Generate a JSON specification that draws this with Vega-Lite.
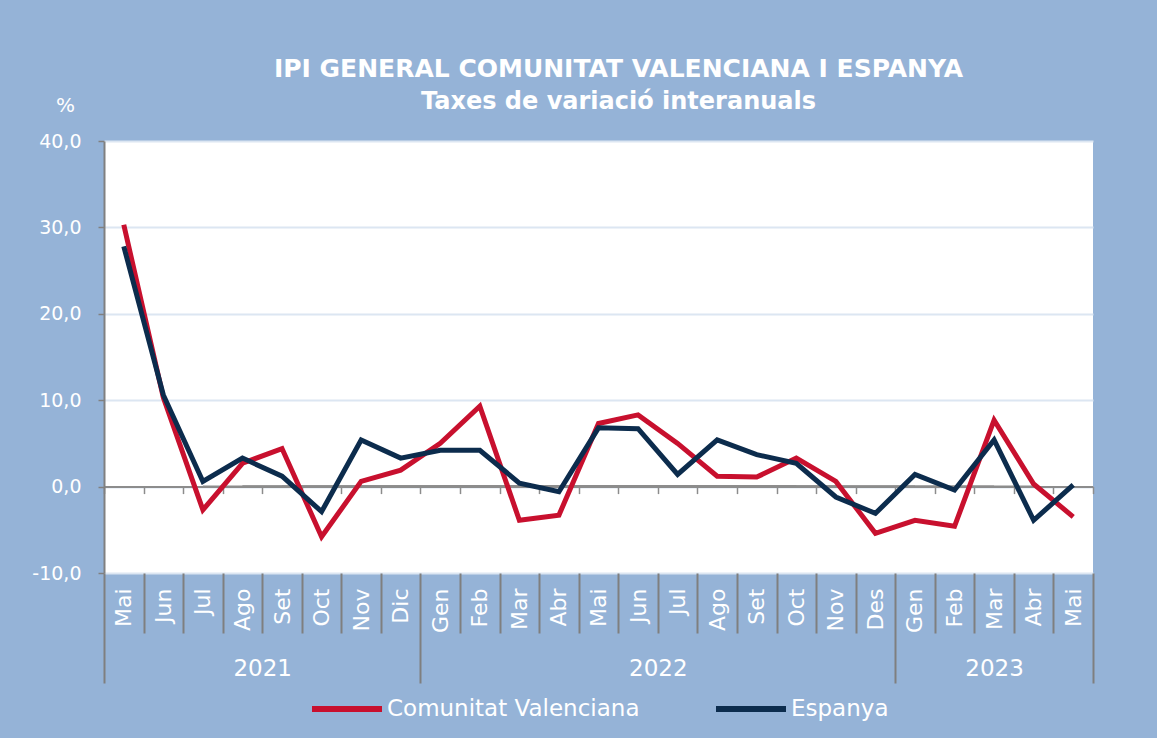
{
  "$schema": "https://vega.github.io/schema/vega-lite/v6.json",
  "width": 989,
  "height": 432,
  "autosize": {"type": "none"},
  "padding": {"left": 104, "top": 141, "right": 64, "bottom": 165},
  "background": "#95b3d7",
  "config": {
    "locale": {"number": {"decimal": ",", "thousands": ".", "grouping": [3], "currency": ["", " €"], "minus": "-"}},
    "view": {"fill": "white", "stroke": null},
    "font": "DejaVu Sans"
  },
  "title": {
    "text": "IPI GENERAL COMUNITAT VALENCIANA I ESPANYA",
    "subtitle": "Taxes de variació interanuals",
    "color": "white",
    "subtitleColor": "white",
    "font": "DejaVu Sans",
    "subtitleFont": "DejaVu Sans",
    "fontSize": 25,
    "subtitleFontSize": 24,
    "fontWeight": "bold",
    "subtitleFontWeight": "bold",
    "anchor": "middle",
    "frame": "group",
    "dx": 20,
    "offset": -19,
    "subtitlePadding": 8
  },
  "datasets": {
    "ipi": [
      {"i": 0, "mes": "Mai", "any": 2021, "Comunitat Valenciana": 30.3, "Espanya": 27.8},
      {"i": 1, "mes": "Jun", "any": 2021, "Comunitat Valenciana": 10.3, "Espanya": 10.6},
      {"i": 2, "mes": "Jul", "any": 2021, "Comunitat Valenciana": -2.7, "Espanya": 0.6},
      {"i": 3, "mes": "Ago", "any": 2021, "Comunitat Valenciana": 2.7, "Espanya": 3.3},
      {"i": 4, "mes": "Set", "any": 2021, "Comunitat Valenciana": 4.4, "Espanya": 1.2},
      {"i": 5, "mes": "Oct", "any": 2021, "Comunitat Valenciana": -5.8, "Espanya": -2.9},
      {"i": 6, "mes": "Nov", "any": 2021, "Comunitat Valenciana": 0.6, "Espanya": 5.4},
      {"i": 7, "mes": "Dic", "any": 2021, "Comunitat Valenciana": 1.9, "Espanya": 3.3},
      {"i": 8, "mes": "Gen", "any": 2022, "Comunitat Valenciana": 5.0, "Espanya": 4.2},
      {"i": 9, "mes": "Feb", "any": 2022, "Comunitat Valenciana": 9.3, "Espanya": 4.2},
      {"i": 10, "mes": "Mar", "any": 2022, "Comunitat Valenciana": -3.9, "Espanya": 0.4},
      {"i": 11, "mes": "Abr", "any": 2022, "Comunitat Valenciana": -3.3, "Espanya": -0.6},
      {"i": 12, "mes": "Mai", "any": 2022, "Comunitat Valenciana": 7.3, "Espanya": 6.8},
      {"i": 13, "mes": "Jun", "any": 2022, "Comunitat Valenciana": 8.3, "Espanya": 6.7},
      {"i": 14, "mes": "Jul", "any": 2022, "Comunitat Valenciana": 5.0, "Espanya": 1.4},
      {"i": 15, "mes": "Ago", "any": 2022, "Comunitat Valenciana": 1.2, "Espanya": 5.4},
      {"i": 16, "mes": "Set", "any": 2022, "Comunitat Valenciana": 1.1, "Espanya": 3.7},
      {"i": 17, "mes": "Oct", "any": 2022, "Comunitat Valenciana": 3.3, "Espanya": 2.7},
      {"i": 18, "mes": "Nov", "any": 2022, "Comunitat Valenciana": 0.6, "Espanya": -1.2},
      {"i": 19, "mes": "Des", "any": 2022, "Comunitat Valenciana": -5.4, "Espanya": -3.1},
      {"i": 20, "mes": "Gen", "any": 2023, "Comunitat Valenciana": -3.9, "Espanya": 1.4},
      {"i": 21, "mes": "Feb", "any": 2023, "Comunitat Valenciana": -4.6, "Espanya": -0.4},
      {"i": 22, "mes": "Mar", "any": 2023, "Comunitat Valenciana": 7.7, "Espanya": 5.4},
      {"i": 23, "mes": "Abr", "any": 2023, "Comunitat Valenciana": 0.3, "Espanya": -3.9},
      {"i": 24, "mes": "Mai", "any": 2023, "Comunitat Valenciana": -3.5, "Espanya": 0.2}
    ]
  },
  "data": {"name": "ipi"},
  "transform": [{"fold": ["Comunitat Valenciana", "Espanya"], "as": ["serie", "valor"]}],
  "encoding": {
    "y": {
      "field": "valor",
      "type": "quantitative",
      "scale": {"domain": [-10, 40], "nice": false, "zero": false},
      "axis": {
        "title": "%",
        "titleAngle": 0,
        "titleX": -39,
        "titleY": -36,
        "titleAlign": "center",
        "titleBaseline": "middle",
        "titleColor": "white",
        "titleFont": "DejaVu Sans",
        "titleFontSize": 20,
        "titleFontWeight": "normal",
        "values": [-10, 0, 10, 20, 30, 40],
        "format": ".1f",
        "labelColor": "white",
        "labelFont": "DejaVu Sans",
        "labelFontSize": 19,
        "labelPadding": 17,
        "tickSize": 6,
        "tickColor": "#808080",
        "tickWidth": 1.5,
        "domainColor": "#808080",
        "domainWidth": 2,
        "gridColor": "#dce6f2",
        "gridWidth": 2
      }
    },
    "color": {
      "field": "serie",
      "type": "nominal",
      "scale": {"domain": ["Comunitat Valenciana", "Espanya"], "range": ["#c8102e", "#0c2c4d"]},
      "legend": {
        "orient": "none",
        "legendX": 205,
        "legendY": 530,
        "direction": "horizontal",
        "title": null,
        "symbolType": "stroke",
        "symbolSize": 4900,
        "symbolStrokeWidth": 6,
        "labelColor": "white",
        "labelFont": "DejaVu Sans",
        "labelFontSize": 23,
        "labelLimit": 500,
        "labelOffset": 2,
        "columnPadding": 64
      }
    }
  },
  "layer": [
    {
      "mark": {"type": "rule", "strokeWidth": 2},
      "encoding": {
        "x": {
          "field": "i",
          "type": "quantitative",
          "aggregate": "min",
          "scale": {"domain": [-0.5, 24.5], "nice": false, "zero": false},
          "axis": {
            "orient": "bottom",
            "offset": -86.4,
            "values": [-0.5, 0.5, 1.5, 2.5, 3.5, 4.5, 5.5, 6.5, 7.5, 8.5, 9.5, 10.5, 11.5, 12.5, 13.5, 14.5, 15.5, 16.5, 17.5, 18.5, 19.5, 20.5, 21.5, 22.5, 23.5, 24.5],
            "labels": false,
            "ticks": true,
            "tickSize": 7,
            "tickColor": "#8c8c8c",
            "tickWidth": 1.5,
            "domain": true,
            "domainColor": "#8c8c8c",
            "domainWidth": 2,
            "grid": false,
            "title": null
          }
        },
        "x2": {"field": "i", "aggregate": "max"},
        "y": {"datum": 0, "type": "quantitative"},
        "color": {"value": "#8c8c8c"}
      }
    },
    {
      "transform": [{"filter": "datum.serie === 'Comunitat Valenciana'"}],
      "mark": {"type": "line", "strokeWidth": 5},
      "encoding": {
        "x": {
          "field": "i",
          "type": "quantitative",
          "axis": {
            "orient": "bottom",
            "values": [-0.5, 0.5, 1.5, 2.5, 3.5, 4.5, 5.5, 6.5, 7.5, 8.5, 9.5, 10.5, 11.5, 12.5, 13.5, 14.5, 15.5, 16.5, 17.5, 18.5, 19.5, 20.5, 21.5, 22.5, 23.5, 24.5],
            "labelExpr": "['Mai','Jun','Jul','Ago','Set','Oct','Nov','Dic','Gen','Feb','Mar','Abr','Mai','Jun','Jul','Ago','Set','Oct','Nov','Des','Gen','Feb','Mar','Abr','Mai'][datum.value + 0.5] || ''",
            "labelOffset": 19.78,
            "labelAngle": 270,
            "labelAlign": "right",
            "labelBaseline": "middle",
            "labelColor": "white",
            "labelFont": "DejaVu Sans",
            "labelFontSize": 22,
            "labelPadding": {"condition": {"test": "indexof([-0.5, 7.5, 19.5, 24.5], datum.value) >= 0", "value": -95}, "value": -45},
            "labelFlush": false,
            "labelOverlap": false,
            "tickSize": {"condition": {"test": "indexof([-0.5, 7.5, 19.5, 24.5], datum.value) >= 0", "value": 110}, "value": 60},
            "tickColor": "#7f7f7f",
            "tickWidth": 2,
            "domain": false,
            "grid": false,
            "title": null
          }
        }
      }
    },
    {
      "transform": [{"filter": "datum.serie === 'Espanya'"}],
      "mark": {"type": "line", "strokeWidth": 5},
      "encoding": {
        "x": {
          "field": "i",
          "type": "quantitative",
          "axis": {
            "orient": "bottom",
            "values": [3.5, 13.5, 22],
            "labelExpr": "datum.value < 8 ? '2021' : datum.value < 20 ? '2022' : '2023'",
            "labelAngle": 0,
            "labelColor": "white",
            "labelFont": "DejaVu Sans",
            "labelFontSize": 23,
            "labelPadding": 84,
            "labelFlush": false,
            "labelOverlap": false,
            "ticks": false,
            "domain": false,
            "grid": false,
            "title": null
          }
        }
      }
    }
  ],
  "resolve": {"axis": {"x": "independent"}}
}
